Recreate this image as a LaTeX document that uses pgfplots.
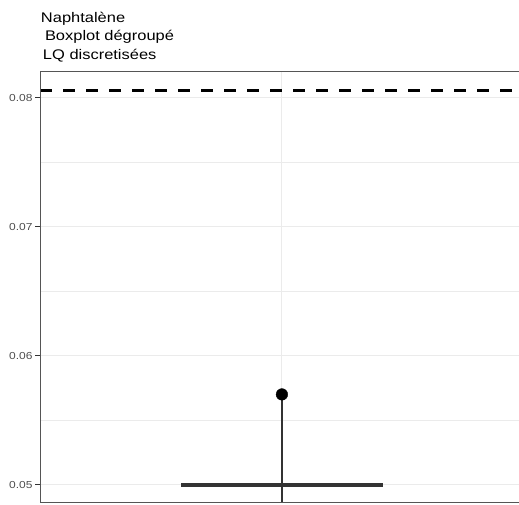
\documentclass[border=0pt]{standalone}
\usepackage{pgfplots}
\pgfplotsset{compat=1.18}
\usepackage{fontspec}
\setmainfont[FakeStretch=1.18]{Liberation Sans}
\definecolor{gridc}{HTML}{EBEBEB}
\definecolor{axc}{HTML}{333333}
\definecolor{framec}{HTML}{555555}
\definecolor{tickl}{HTML}{4D4D4D}
\begin{document}
\begin{tikzpicture}[x=1bp,y=1bp]
\useasboundingbox (0,0) rectangle (519,505);
\begin{axis}[
  name=ax,
  at={(40bp,2bp)}, anchor=south west,
  scale only axis, width=479bp, height=431bp,
  xmin=0.4, xmax=1.588, ymin=0.04858, ymax=0.0820,
  scaled y ticks=false, scaled x ticks=false,
  xtick={1}, xticklabels={}, xtick style={draw=none},
  ytick={0.05,0.06,0.07,0.08}, yticklabels={0.05,0.06,0.07,0.08},
  minor ytick={0.055,0.065,0.075},
  xmajorgrids, ymajorgrids, yminorgrids,
  major grid style={draw=gridc, line width=1bp},
  minor grid style={draw=gridc, line width=0.6bp},
  axis line style={draw=none},
  tick align=outside,
  ytick style={draw=axc, line width=0.8bp},
  major tick length=5bp, minor tick length=0bp,
  yticklabel style={font=\fontsize{10.2}{11}\selectfont, text=tickl, xshift=1bp},
  /pgf/number format/assume math mode=true,
]
\addplot[black, line width=2.8bp, dash pattern=on 12bp off 11bp] coordinates {(0.4,0.08057) (1.588,0.08057)};
\addplot[axc, line width=1.6bp] coordinates {(1,0.040) (1,0.0570)};
\addplot[axc, line width=3.8bp] coordinates {(0.75,0.05) (1.25,0.05)};
\addplot[only marks, mark=*, mark size=5.8bp, black] coordinates {(1,0.0570)};
\end{axis}
\draw[framec, line width=1bp] ([xshift=10bp]ax.south east) -- (ax.south west) -- (ax.north west) -- ([xshift=10bp]ax.north east);
\node[anchor=base west, inner sep=0pt] at (40.8,482.7) {\fontsize{14}{18.5}\selectfont
  \begin{tabular}[t]{@{}l@{}}
  Naphtalène\\
  \hspace*{4bp}Boxplot dégroupé\\
  \hspace*{2bp}LQ discretisées
  \end{tabular}};
\end{tikzpicture}
\end{document}
